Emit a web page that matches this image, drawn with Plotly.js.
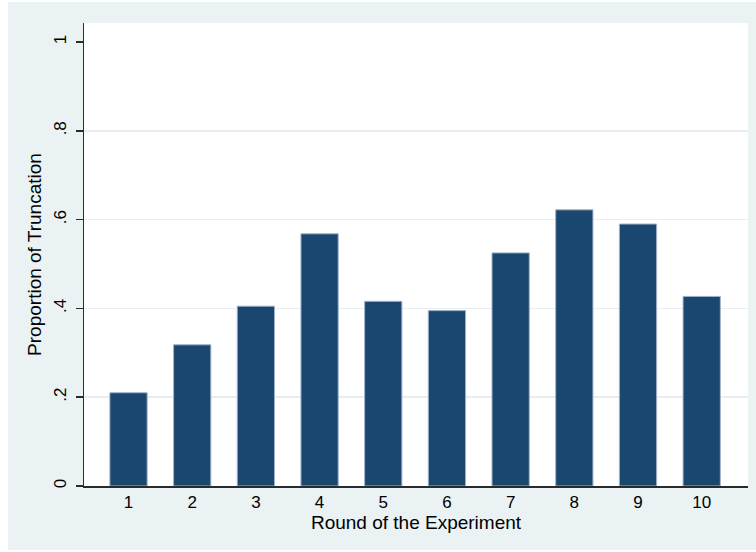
<!DOCTYPE html>
<html>
<head>
<meta charset="utf-8">
<script src="https://cdn.plot.ly/plotly-3.0.1.min.js"></script>
<style>
  html, body { margin: 0; padding: 0; background: #ffffff; }
  #chart { position: absolute; left: 8px; top: 2px; width: 748px; height: 548px; }
</style>
</head>
<body>
<div id="chart"></div>
<script>
// Data
const rounds = [1, 2, 3, 4, 5, 6, 7, 8, 9, 10];
const proportions = [0.210, 0.318, 0.405, 0.568, 0.416, 0.395, 0.525, 0.622, 0.590, 0.427];
const yTickVals = [0, 0.2, 0.4, 0.6, 0.8, 1];
const yTickText = ["0", ".2", ".4", ".6", ".8", "1"];
const gridVals = [0.2, 0.4, 0.6, 0.8];
const xTickText = ["1", "2", "3", "4", "5", "6", "7", "8", "9", "10"];

const font = "Liberation Sans, Arial, sans-serif";
const yRange = [0, 1.0428];

const traces = [
  {
    type: "bar",
    x: rounds,
    y: proportions,
    width: 0.585,
    marker: { color: "#1a476f", line: { color: "#9fb3c8", width: 1 } },
    hoverinfo: "skip",
    xaxis: "x",
    yaxis: "y"
  },
  {
    type: "scatter",
    mode: "none",
    x: [rounds[0]],
    y: [gridVals[0]],
    showlegend: false,
    hoverinfo: "skip",
    xaxis: "x",
    yaxis: "y2"
  }
];

const layout = {
  width: 748,
  height: 548,
  paper_bgcolor: "#eaf2f3",
  plot_bgcolor: "#ffffff",
  margin: { l: 76, r: 8, t: 21, b: 64 },
  showlegend: false,
  font: { family: font, color: "#000000", size: 17 },
  xaxis: {
    range: [0.301, 10.727],
    tickvals: rounds,
    ticktext: xTickText,
    ticks: "",
    showgrid: false,
    zeroline: false,
    showline: true,
    linecolor: "#2b2b2b",
    linewidth: 1.5,
    tickfont: { family: font, size: 17, color: "#000000" },
    title: { text: "Round of the Experiment", font: { family: font, size: 19, color: "#000000" }, standoff: 0 }
  },
  yaxis: {
    range: yRange,
    tickvals: yTickVals,
    ticktext: yTickText,
    tickangle: -90,
    ticks: "outside",
    ticklen: 7,
    tickwidth: 1.5,
    tickcolor: "#2b2b2b",
    ticklabelstandoff: 3,
    showgrid: false,
    zeroline: false,
    showline: true,
    linecolor: "#2b2b2b",
    linewidth: 1.5,
    tickfont: { family: font, size: 17, color: "#000000" },
    title: { text: "Proportion of Truncation", font: { family: font, size: 19, color: "#000000" }, standoff: 4 }
  },
  yaxis2: {
    overlaying: "y",
    range: yRange,
    tickvals: gridVals,
    showticklabels: false,
    ticks: "",
    showgrid: true,
    gridcolor: "#e6eef1",
    gridwidth: 1.5,
    zeroline: false,
    showline: false
  }
};

Plotly.newPlot("chart", traces, layout, { displayModeBar: false, staticPlot: true });
</script>
</body>
</html>
